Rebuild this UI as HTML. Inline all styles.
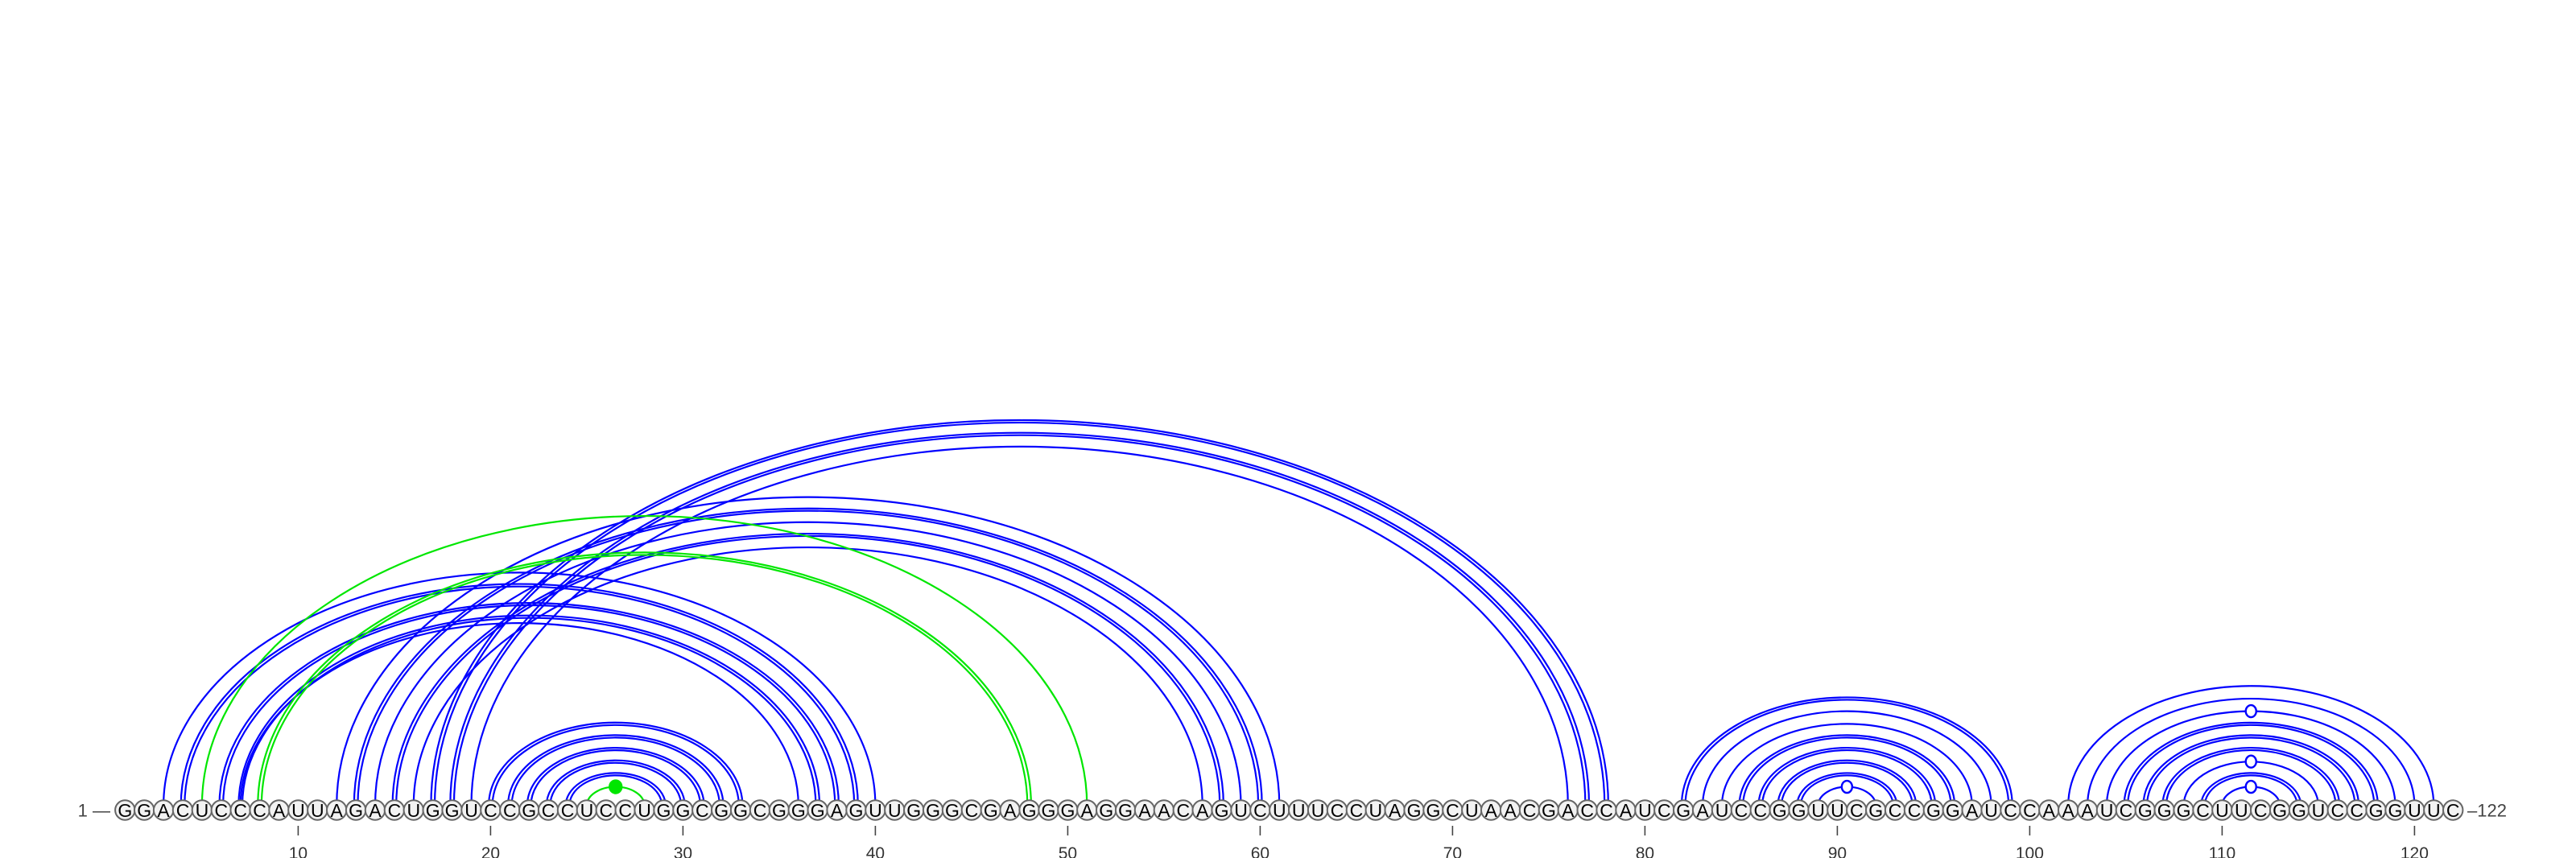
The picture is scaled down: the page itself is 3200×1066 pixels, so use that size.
<!DOCTYPE html>
<html>
<head>
<meta charset="utf-8">
<style>
  html, body { margin: 0; padding: 0; background: #ffffff; }
  svg { display: block; }
  text { font-family: "Liberation Sans", "DejaVu Sans", sans-serif; }
</style>
</head>
<body>
<svg id="chart" width="3200" height="1066" viewBox="0 0 3200 1066" xmlns="http://www.w3.org/2000/svg">
  <g id="arcs"></g>
  <g id="markers"></g>
  <g id="bases"></g>
  <g id="axis"></g>
</svg>
<script>
const sequence = "GGACUCCCAUUAGACUGGUCCGCCUCCUGGCGGCGGGAGUUGGGCGAGGGAGGAACAGUCUUUCCUAGGCUAACGACCAUCGAUCCGGUUCGCCGGAUCCAAAUCGGGCUUCGGUCCGGUUC";
const pairStart = [3,4,6,7,7, 12,13,14,15,16, 17,18,19, 20,21,22,23,24, 82,83,84,85,86,87,88,89, 102,103,104,105,106,107,108,109,110, 5,8,25];
const pairEnd   = [40,39,38,37,36, 61,60,59,58,57, 78,77,76, 33,32,31,30,29, 99,98,97,96,95,94,93,92, 121,120,119,118,117,116,115,114,113, 51,48,28];
const pairColor = ["b","b","b","b","b", "b","b","b","b","b", "b","b","b", "b","b","b","b","b", "b","b","b","b","b","b","b","b", "b","b","b","b","b","b","b","b","b", "g","g","g"];
const pairDouble= [0,1,1,1,0, 0,1,0,1,0, 1,1,0, 1,1,1,1,1, 1,0,0,1,1,1,1,0, 0,0,0,1,1,1,0,1,0, 0,1,0];
const markerStart = [89,104,108,110,25];
const markerEnd   = [92,119,115,113,28];
const markerKind  = ["open","open","open","open","filled"];
const tickValues = [10,20,30,40,50,60,70,80,90,100,110,120];

const NS = "http://www.w3.org/2000/svg";
const X0 = 155.3, STEP = 23.9, BASE_Y = 1006.5, ARC_Y = 1001, RATIO = 0.655;
function xPos(p) { return X0 + (p - 1) * STEP; }
function arcTop(i, j) { return ARC_Y - RATIO * (xPos(j) - xPos(i)) / 2; }
const colors = { b: "#0000ff", g: "#00e600" };

const arcs = document.getElementById("arcs");
function drawArc(x1, x2, col, name) {
  const hw = (x2 - x1) / 2, ry = RATIO * hw;
  const p = document.createElementNS(NS, "path");
  p.setAttribute("d", `M ${x1} ${ARC_Y} A ${hw} ${ry} 0 0 1 ${x2} ${ARC_Y}`);
  p.setAttribute("fill", "none");
  p.setAttribute("stroke", col);
  p.setAttribute("stroke-width", "2.2");
  
  
  arcs.appendChild(p);
}
for (let k = 0; k < pairStart.length; k++) {
  const x1 = xPos(pairStart[k]), x2 = xPos(pairEnd[k]);
  const col = colors[pairColor[k]];
  const nm = "arc-" + pairStart[k] + "-" + pairEnd[k];
  if (pairDouble[k]) {
    drawArc(x1 - 2.3, x2 + 2.3, col, nm);
    drawArc(x1 + 2.3, x2 - 2.3, col, nm + "-b");
  } else {
    drawArc(x1, x2, col, nm);
  }
}

const markers = document.getElementById("markers");
for (let k = 0; k < markerStart.length; k++) {
  const cx = (xPos(markerStart[k]) + xPos(markerEnd[k])) / 2;
  const cy = arcTop(markerStart[k], markerEnd[k]);
  const e = document.createElementNS(NS, "ellipse");
  e.setAttribute("cx", cx);
  e.setAttribute("cy", cy);
  if (markerKind[k] === "filled") {
    e.setAttribute("rx", 7.5); e.setAttribute("ry", 8);
    e.setAttribute("fill", "#00e600"); e.setAttribute("stroke", "#00e600");
  } else {
    e.setAttribute("rx", 6.5); e.setAttribute("ry", 7.5);
    e.setAttribute("fill", "#ffffff"); e.setAttribute("stroke", "#0000ff");
  }
  e.setAttribute("stroke-width", "2.4");
  
  
  markers.appendChild(e);
}

const bases = document.getElementById("bases");
for (let i = 0; i < sequence.length; i++) {
  const cx = xPos(i + 1);
  const c = document.createElementNS(NS, "circle");
  c.setAttribute("cx", cx); c.setAttribute("cy", BASE_Y); c.setAttribute("r", 12.2);
  c.setAttribute("fill", "#f2f2f2"); c.setAttribute("stroke", "#666666"); c.setAttribute("stroke-width", "2");
  
  
  bases.appendChild(c);
  const t = document.createElementNS(NS, "text");
  t.setAttribute("x", cx); t.setAttribute("y", BASE_Y + 8.3);
  t.setAttribute("text-anchor", "middle"); t.setAttribute("font-size", "23");
  t.setAttribute("fill", "#000");
  t.textContent = sequence[i];
  
  
  bases.appendChild(t);
}

const axis = document.getElementById("axis");
for (let k = 0; k < tickValues.length; k++) {
  const x = xPos(tickValues[k]);
  const l = document.createElementNS(NS, "line");
  l.setAttribute("x1", x); l.setAttribute("x2", x);
  l.setAttribute("y1", 1026); l.setAttribute("y2", 1038);
  l.setAttribute("stroke", "#444"); l.setAttribute("stroke-width", "1.6");
  
  
  axis.appendChild(l);
  const t = document.createElementNS(NS, "text");
  t.setAttribute("x", x); t.setAttribute("y", 1067);
  t.setAttribute("text-anchor", "middle"); t.setAttribute("font-size", "21");
  t.setAttribute("fill", "#333");
  t.textContent = tickValues[k];
  
  
  axis.appendChild(t);
}
const startLbl = document.createElementNS(NS, "text");
startLbl.setAttribute("x", 137); startLbl.setAttribute("y", BASE_Y + 8);
startLbl.setAttribute("text-anchor", "end"); startLbl.setAttribute("font-size", "22");
startLbl.setAttribute("fill", "#444");
startLbl.textContent = "1 \u2014";


axis.appendChild(startLbl);
const endLbl = document.createElementNS(NS, "text");
endLbl.setAttribute("x", 3065); endLbl.setAttribute("y", BASE_Y + 8);
endLbl.setAttribute("text-anchor", "start"); endLbl.setAttribute("font-size", "22");
endLbl.setAttribute("fill", "#444");
endLbl.textContent = "\u2013122";


axis.appendChild(endLbl);
</script>
</body>
</html>
